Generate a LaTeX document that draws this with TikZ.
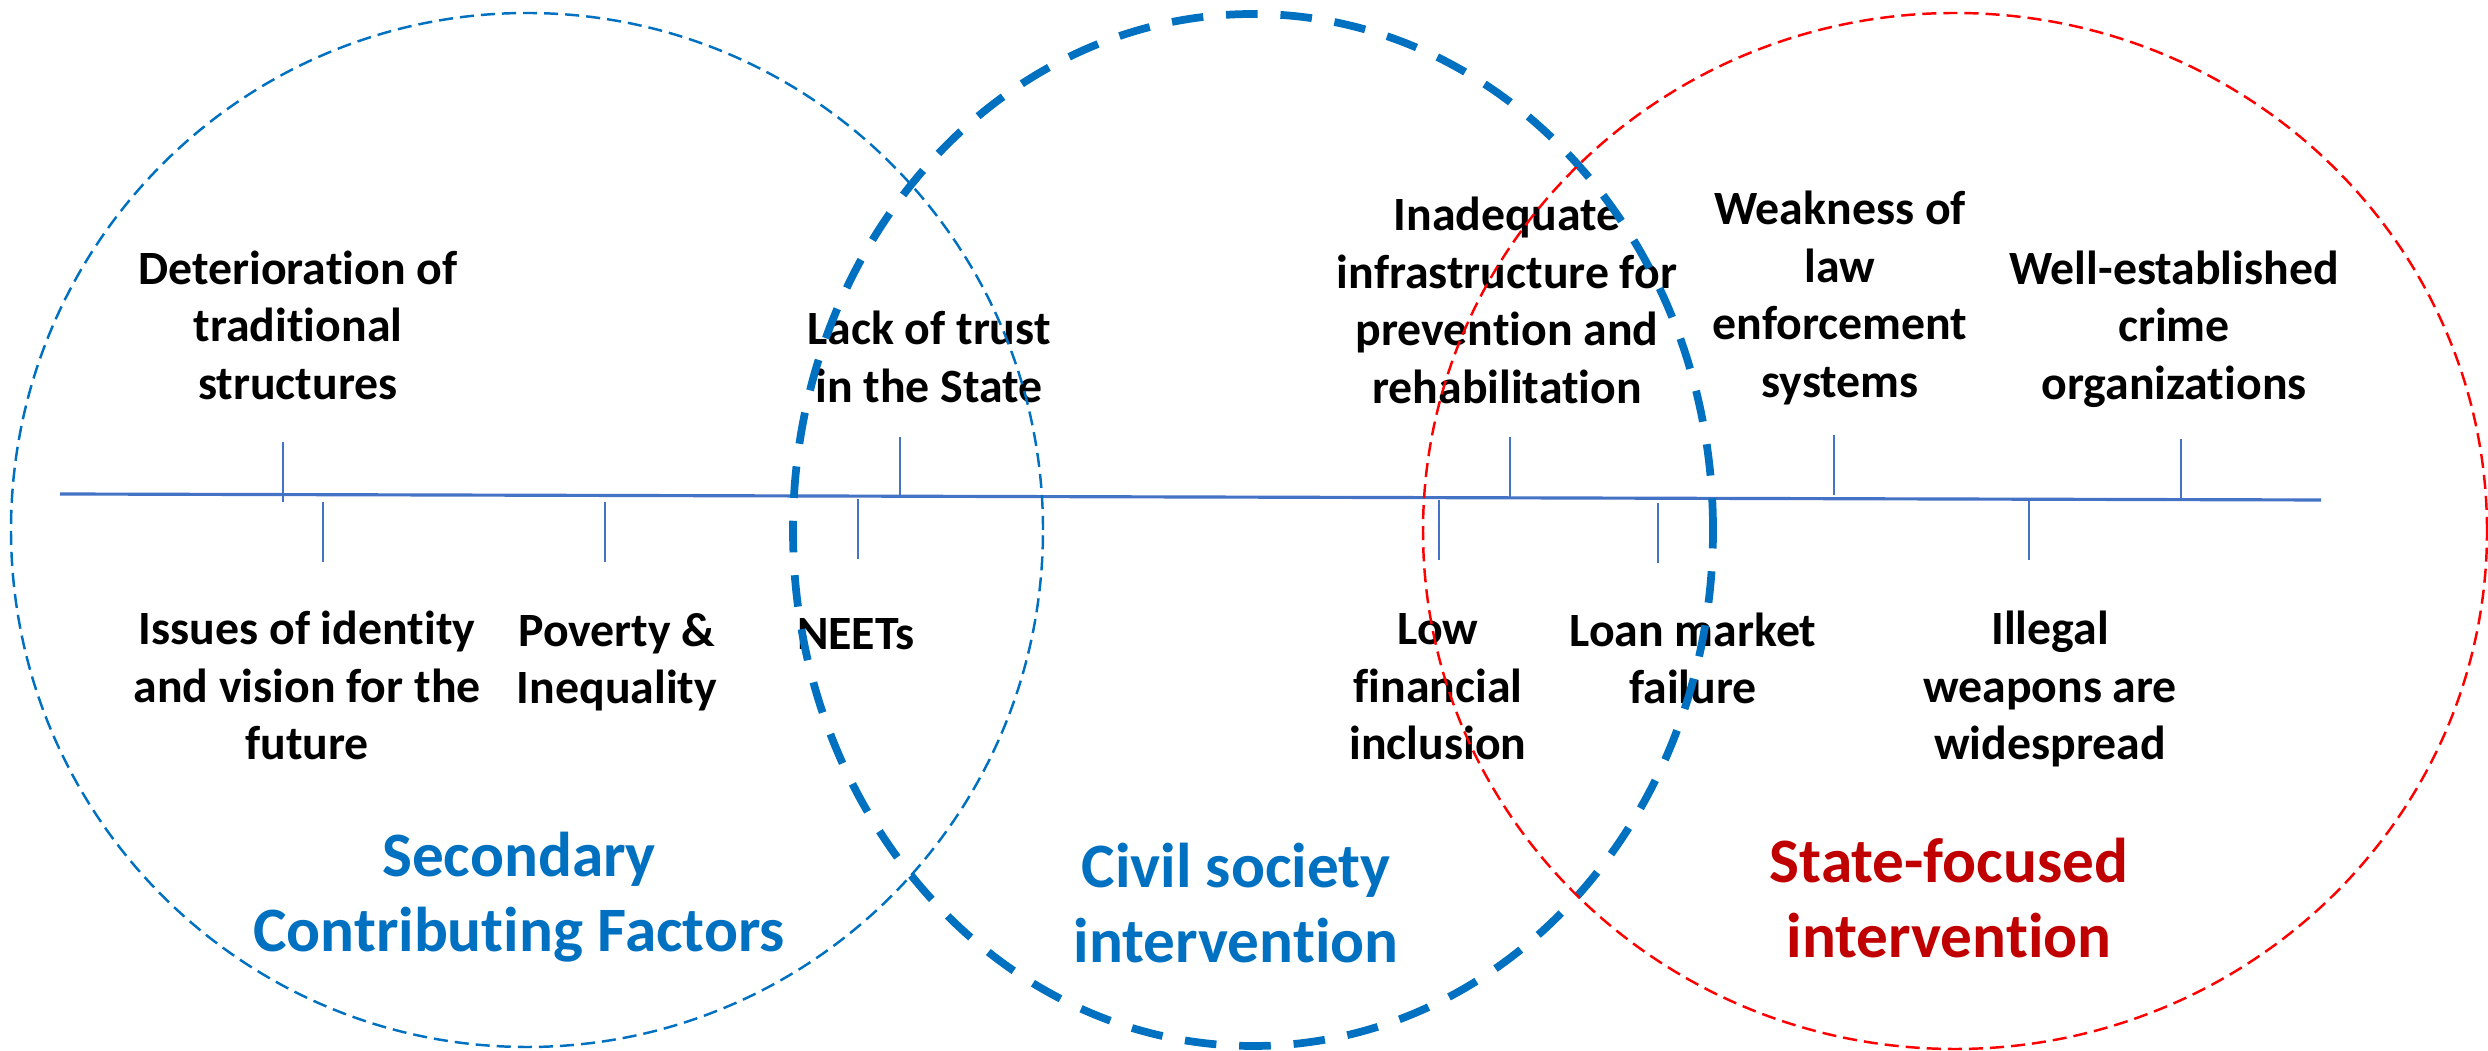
\documentclass[tikz,border=0pt]{standalone}
\usepackage{fontspec}
\setmainfont{Carlito}[Ligatures=NoCommon]
\usetikzlibrary{positioning}
\definecolor{vblue}{HTML}{0070C0}
\definecolor{vred}{HTML}{C00000}
\definecolor{axis}{HTML}{4472C4}
\tikzset{lbl/.style={align=center,anchor=base,inner sep=0pt,font=\bfseries\fontsize{13.6}{16.5}\selectfont}}

\begin{document}
\begin{tikzpicture}[ttl/.style={lbl,font=\bfseries\fontsize{18}{21.5}\selectfont},
                    tick/.style={axis,line width=0.45pt}]
    \useasboundingbox (0,0) rectangle (24.88,10.51);
    \def\h{0.6}
    % axis with ticks
    \coordinate (s) at (0.6,5.57);
    \coordinate (e) at (23.21,5.51);
    \draw [axis,line width=0.9pt] (s) -- (e);
    \foreach \x/\y in {2.83/5.49,9.00/5.54,15.10/5.54,18.34/5.56,21.81/5.52}
        \draw [tick] (\x,\y) -- ++(0,\h);
    \foreach \x/\y in {3.23/5.49,6.05/5.49,8.58/5.52,14.39/5.51,16.58/5.48,20.29/5.51}
        \draw [tick] (\x,\y) -- ++(0,-\h);
    % labels above (base = last line)
    \node [lbl] (deter) at (2.98,6.51) {Deterioration of\\traditional\\structures};
    \node [lbl] (trust) at (9.29,6.48) {Lack of trust\\in the State};
    \node [lbl] (infra) at (15.07,6.47) {Inadequate\\infrastructure for\\prevention and\\rehabilitation};
    \node [lbl] (weak) at (18.40,6.53) {Weakness of\\law\\enforcement\\systems};
    \node [lbl] (crime) at (21.74,6.51) {Well-established\\crime\\organizations};
    % labels below
    \node [lbl] (ident) at (3.07,2.91) {Issues of identity\\and vision for the\\future};
    \node [lbl] (pov) at (6.17,3.47) {Poverty \&\\Inequality};
    \node [lbl] (neet) at (8.56,4.01) {NEETs};
    \node [lbl] (fin) at (14.38,2.91) {Low\\financial\\inclusion};
    \node [lbl] (loan) at (16.93,3.47) {Loan market\\failure};
    \node [lbl] (weap) at (20.50,2.91) {Illegal\\weapons are\\widespread};
    % titles
    \node [ttl,vblue] (sec) at (5.19,0.99) {Secondary\\Contributing Factors};
    \node [ttl,vblue] (civ) at (12.36,0.88) {Civil society\\intervention};
    \node [ttl,vred] (stf) at (19.49,0.93) {State-focused\\intervention};
    % circles
    \draw [vblue,line width=0.7pt,dash pattern=on 4pt off 2pt] (5.27,5.21) ellipse [x radius=5.16,y radius=5.17];
    \draw [vblue,line width=2.2pt,dash pattern=on 9pt off 6.5pt] (12.53,5.21) ellipse [x radius=4.6,y radius=5.16];
    \draw [red,line width=0.7pt,dash pattern=on 4pt off 2pt] (19.55,5.2) ellipse [x radius=5.32,y radius=5.18];
\end{tikzpicture}
\end{document}
